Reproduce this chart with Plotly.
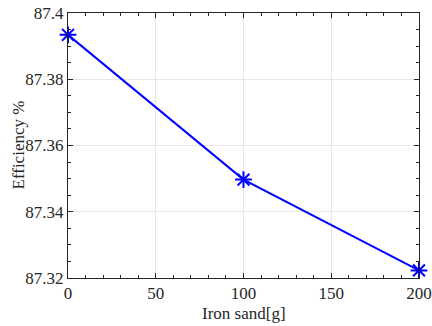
import plotly.graph_objects as go

iron_sand = [0, 100, 200]
efficiency = [87.3934, 87.3497, 87.3223]
x_ticks = [0, 50, 100, 150, 200]
y_ticks = [87.32, 87.34, 87.36, 87.38, 87.4]
y_tick_labels = ["87.32", "87.34", "87.36", "87.38", "87.4"]
x_title = "Iron sand[g]"
y_title = "Efficiency %"

font = dict(family="Liberation Serif, Times New Roman, serif", size=17, color="#262626")

fig = go.Figure()
fig.add_trace(go.Scatter(
    x=iron_sand, y=efficiency, mode="lines+markers",
    line=dict(color="#0000ff", width=2),
    marker=dict(symbol="asterisk-open", size=14, color="#0000ff",
                line=dict(color="#0000ff", width=2)),
    cliponaxis=False, showlegend=False,
))

axis_common = dict(
    showline=True, linecolor="#262626", linewidth=1, mirror="ticks",
    ticks="inside", ticklen=5, tickcolor="#262626", tickwidth=1,
    showgrid=True, gridcolor="#e6e6e6", gridwidth=1, zeroline=False,
    tickfont=font, automargin=False,
)

fig.update_xaxes(
    range=[0, 200], tickvals=x_ticks,
    minor=dict(dtick=10, ticks="inside", ticklen=3, tickcolor="#262626", showgrid=False),
    **axis_common,
)
fig.update_yaxes(
    range=[87.32, 87.4], tickvals=y_ticks, ticktext=y_tick_labels,
    minor=dict(dtick=0.005, ticks="inside", ticklen=3, tickcolor="#262626", showgrid=False),
    **axis_common,
)

fig.add_annotation(text=x_title, xref="paper", yref="paper", x=0.5, y=0,
                   xanchor="center", yanchor="middle", yshift=-35,
                   showarrow=False, font=font)
fig.add_annotation(text=y_title, xref="paper", yref="paper", x=0, y=0.5,
                   xanchor="center", yanchor="middle", xshift=-50, textangle=-90,
                   showarrow=False, font=font)

fig.update_layout(
    width=432, height=326,
    margin=dict(l=68, r=13, t=13, b=48),
    plot_bgcolor="white", paper_bgcolor="white",
    font=font,
)

fig.write_html("out.html")
